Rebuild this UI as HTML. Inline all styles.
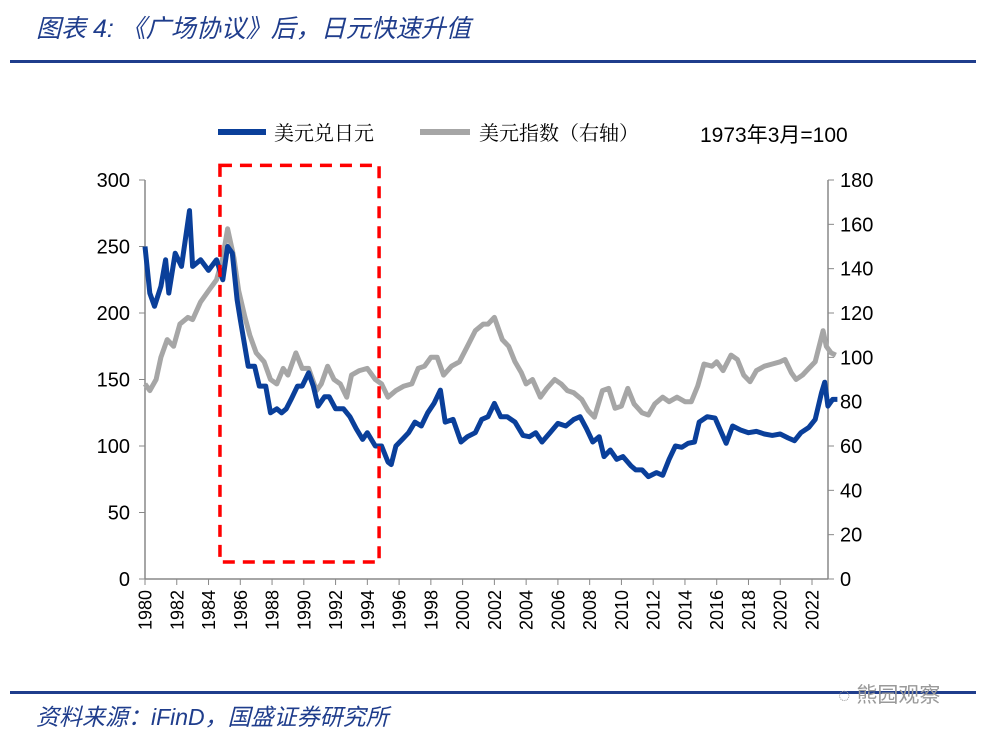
<!DOCTYPE html>
<html><head><meta charset="utf-8"><style>
body{margin:0;background:#fff;width:1000px;height:737px;overflow:hidden;font-family:"Liberation Sans","Noto Sans CJK SC",sans-serif}
</style></head><body>
<svg width="1000" height="737" xmlns="http://www.w3.org/2000/svg" id="chart">
<text x="36" y="37" font-size="25" font-style="italic" fill="#1f3d8c" font-family="Liberation Sans, Noto Sans CJK SC, sans-serif">图表 4:  《广场协议》后，日元快速升值</text>
<rect x="10" y="60" width="966" height="3" fill="#1f3d8c"/>
<rect x="10" y="691" width="966" height="3" fill="#1f3d8c"/>
<text x="36" y="725" font-size="23" font-style="italic" fill="#1f3d8c" font-family="Liberation Sans, Noto Sans CJK SC, sans-serif">资料来源：iFinD，国盛证券研究所</text>
<text x="838" y="702" font-size="21" fill="#999">◌ 熊园观察</text>
<g>
<line x1="218" y1="132" x2="266" y2="132" stroke="#0a3f9a" stroke-width="6"/>
<text x="274" y="140" font-size="20" font-family="Noto Serif CJK SC, serif">美元兑日元</text>
<line x1="420" y1="132" x2="470" y2="132" stroke="#a6a6a6" stroke-width="6"/>
<text x="479" y="140" font-size="20" font-family="Noto Serif CJK SC, serif">美元指数（右轴）</text>
<text x="700" y="142" font-size="21">1973年3月=100</text>
</g>
<g id="axes"></g>
<g id="marks"></g>
</svg>
<script>
const xTickYears=[1980,1982,1984,1986,1988,1990,1992,1994,1996,1998,2000,2002,2004,2006,2008,2010,2012,2014,2016,2018,2020,2022];
const leftTicks=[0,50,100,150,200,250,300];
const rightTicks=[0,20,40,60,80,100,120,140,160,180];
const jpyYears=[1980.0,1980.3,1980.6,1981.0,1981.3,1981.5,1981.9,1982.3,1982.8,1983.0,1983.5,1984.0,1984.5,1984.9,1985.2,1985.5,1985.8,1986.0,1986.5,1986.9,1987.2,1987.6,1987.9,1988.3,1988.6,1988.9,1989.2,1989.6,1989.9,1990.3,1990.6,1990.9,1991.3,1991.6,1992.0,1992.5,1992.9,1993.3,1993.7,1994.0,1994.5,1994.9,1995.3,1995.5,1995.8,1996.2,1996.6,1997.0,1997.4,1997.8,1998.2,1998.6,1998.9,1999.4,1999.9,2000.3,2000.8,2001.2,2001.6,2002.0,2002.4,2002.8,2003.3,2003.8,2004.2,2004.6,2005.0,2005.5,2006.0,2006.5,2007.0,2007.4,2007.8,2008.2,2008.6,2008.9,2009.3,2009.7,2010.1,2010.6,2010.9,2011.3,2011.7,2012.2,2012.6,2013.0,2013.4,2013.8,2014.2,2014.6,2014.9,2015.4,2015.9,2016.3,2016.6,2017.0,2017.5,2018.0,2018.5,2019.0,2019.5,2020.0,2020.5,2020.9,2021.3,2021.8,2022.2,2022.6,2022.8,2023.0,2023.3,2023.6];
const jpyValues=[250,215,205,220,240,215,245,235,277,235,240,232,240,225,250,245,210,195,160,160,145,145,125,128,125,128,135,145,145,155,145,130,137,137,128,128,122,113,105,110,100,100,88,86,100,105,110,118,115,125,132,142,118,120,103,107,110,120,122,132,122,122,118,108,107,110,103,110,117,115,120,122,113,103,107,92,97,90,92,85,82,82,77,80,78,90,100,99,102,103,118,122,121,110,102,115,112,110,111,109,108,109,106,104,110,114,120,140,148,130,135,135];
const dxyYears=[1980.0,1980.3,1980.7,1981.0,1981.4,1981.8,1982.2,1982.7,1983.0,1983.5,1984.0,1984.5,1984.9,1985.2,1985.6,1985.9,1986.3,1986.6,1987.0,1987.5,1987.9,1988.3,1988.7,1989.0,1989.5,1989.9,1990.3,1990.8,1991.1,1991.5,1991.9,1992.3,1992.7,1993.0,1993.5,1994.0,1994.5,1994.9,1995.3,1995.8,1996.3,1996.8,1997.2,1997.6,1998.0,1998.4,1998.8,1999.3,1999.8,2000.3,2000.8,2001.3,2001.6,2002.0,2002.5,2002.9,2003.3,2003.7,2004.0,2004.4,2004.9,2005.3,2005.8,2006.2,2006.6,2007.0,2007.5,2007.9,2008.3,2008.8,2009.2,2009.6,2010.0,2010.4,2010.8,2011.3,2011.7,2012.1,2012.6,2013.0,2013.5,2014.0,2014.4,2014.8,2015.2,2015.7,2016.0,2016.4,2016.9,2017.3,2017.7,2018.1,2018.5,2019.0,2019.5,2020.0,2020.3,2020.7,2021.0,2021.4,2021.8,2022.2,2022.7,2022.9,2023.2,2023.5];
const dxyValues=[88,85,90,100,108,105,115,118,117,125,130,135,145,158,145,130,118,110,102,98,90,88,95,92,102,95,95,85,88,96,90,88,82,92,94,95,90,88,82,85,87,88,95,96,100,100,92,96,98,105,112,115,115,118,108,105,98,93,88,90,82,86,90,88,85,84,81,76,73,85,86,77,78,86,79,75,74,79,82,80,82,80,80,87,97,96,98,94,101,99,92,89,94,96,97,98,99,93,90,92,95,98,112,105,102,101];
const boxYears=[1984.72,1994.74];
const boxLeftValues=[12.8,311];

const X0=145,X1=828,YB=579,YT=180;
const xS=y=>X0+(y-1980)*(812-145)/42;
const yL=v=>YB-(v/300)*(YB-YT);
const yR=v=>YB-(v/180)*(YB-YT);
const NS='http://www.w3.org/2000/svg';
function mk(tag,attrs,parent,text){const e=document.createElementNS(NS,tag);for(const k in attrs)e.setAttribute(k,attrs[k]);if(text!==undefined)e.textContent=text;parent.appendChild(e);return e;}
const ax=document.getElementById('axes'),mk_g=document.getElementById('marks');
let e;
e=mk('line',{x1:X0,y1:YT,x2:X0,y2:YB,stroke:'#888','stroke-width':1.5},ax);


e=mk('line',{x1:X1,y1:YT,x2:X1,y2:YB,stroke:'#888','stroke-width':1.5},ax);


e=mk('line',{x1:X0,y1:YB,x2:X1,y2:YB,stroke:'#888','stroke-width':1.5},ax);


leftTicks.forEach(v=>{
 mk('line',{x1:X0-6,y1:yL(v),x2:X0,y2:yL(v),stroke:'#888'},ax);
 e=mk('text',{x:130,y:yL(v)+7,'font-size':20,'text-anchor':'end'},ax,String(v));
 
 
});
rightTicks.forEach(v=>{
 mk('line',{x1:X1,y1:yR(v),x2:X1+6,y2:yR(v),stroke:'#888'},ax);
 e=mk('text',{x:840,y:yR(v)+7,'font-size':20},ax,String(v));
 
 
});
xTickYears.forEach(yr=>{
 const x=xS(yr);
 mk('line',{x1:x,y1:YB,x2:x,y2:YB+6,stroke:'#888'},ax);
 e=mk('text',{x:0,y:0,'font-size':18,'text-anchor':'end',transform:`translate(${x+6.5},${YB+11}) rotate(-90)`},ax,String(yr));
 
 
});
function path(xs,vs,ys){return xs.map((t,i)=>(i?'L':'M')+xS(t).toFixed(1)+','+ys(vs[i]).toFixed(1)).join('');}
e=mk('path',{d:path(dxyYears,dxyValues,yR),fill:'none',stroke:'#a6a6a6','stroke-width':5,'stroke-linejoin':'round'},mk_g);


e=mk('path',{d:path(jpyYears,jpyValues,yL),fill:'none',stroke:'#0a3f9a','stroke-width':5,'stroke-linejoin':'round'},mk_g);


const bx=xS(boxYears[0]),bx2=xS(boxYears[1]),by=yL(boxLeftValues[1]),by2=yL(boxLeftValues[0]);
e=mk('rect',{x:bx,y:by,width:bx2-bx,height:by2-by,fill:'none',stroke:'#ff0000','stroke-width':3.5,'stroke-dasharray':'12,8'},mk_g);


</script>
</body></html>
